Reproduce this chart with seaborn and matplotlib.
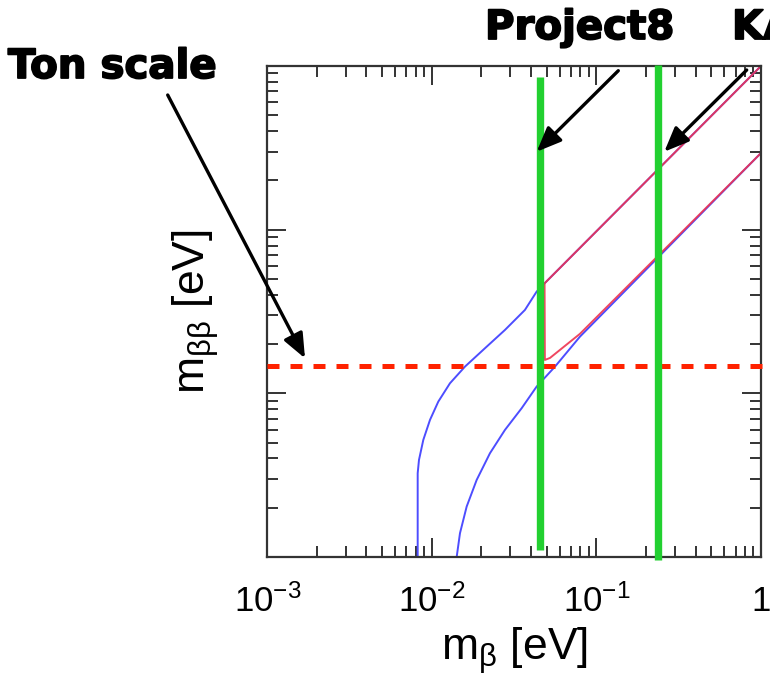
import matplotlib
matplotlib.use('Agg')
import matplotlib.pyplot as plt
import matplotlib.patheffects as pe
import seaborn as sns
import pandas as pd

# band edges: m_beta [eV] vs m_bb [eV]
no_upper_mb = [0.00820, 0.00820, 0.00835, 0.00887, 0.00974, 0.01094, 0.01288,
               0.01589, 0.02102, 0.0278, 0.03677, 0.0433, 0.0484, 1.0]
no_upper_mbb = [0.001, 0.00325, 0.003917, 0.005192, 0.00688, 0.008899, 0.01152,
                0.01456, 0.01886, 0.02439, 0.03232, 0.0418, 0.0470, 1.0]
no_lower_mb = [0.01415, 0.01482, 0.01627, 0.01872, 0.02254, 0.0278, 0.03512,
               0.0433, 0.0560, 0.0794, 1.0]
no_lower_mbb = [0.001, 0.001398, 0.002032, 0.002958, 0.004305, 0.005975,
                0.00811, 0.01099, 0.01456, 0.0222, 0.294]
io_mb = [1.0, 0.0484, 0.0486, 0.0522, 0.0794, 1.0]
io_mbb = [1.0, 0.047, 0.016, 0.01645, 0.0231, 0.294]

# sensitivities
ton_scale_mbb = 0.0147
project8_mb = 0.0452
project8_span = [0.0011, 0.857]
katrin_mb = 0.2374
katrin_span = [0.00096, 1.02]

x_ticks = [1e-3, 1e-2, 1e-1, 1.0]
x_tick_labels = ['$10^{-3}$', '$10^{-2}$', '$10^{-1}$', '1']

W, H = 770, 678


def fig_xy(px, py):
    # image pixel (from top-left) -> figure fraction
    return px / W, 1 - py / H


sns.set_style('ticks')
plt.rcParams['font.family'] = ['Liberation Sans', 'DejaVu Sans']
plt.rcParams['mathtext.fontset'] = 'custom'
plt.rcParams['mathtext.rm'] = 'Liberation Sans'
plt.rcParams['mathtext.it'] = 'Liberation Sans:italic'
plt.rcParams['mathtext.bf'] = 'Liberation Sans:bold'
plt.rcParams['text.color'] = 'black'
plt.rcParams['axes.labelcolor'] = 'black'
plt.rcParams['xtick.labelcolor'] = 'black'

fig = plt.figure(figsize=(W / 100, H / 100), dpi=100)
ax = fig.add_axes([267.3 / W, 1 - 557 / H, (761 - 267.3) / W, (557 - 66) / H])
ax.set_xscale('log')
ax.set_yscale('log')

blue = '#4d4dff'
red = '#ee3350'

df_up = pd.DataFrame({'mb': no_upper_mb, 'mbb': no_upper_mbb})
df_lo = pd.DataFrame({'mb': no_lower_mb, 'mbb': no_lower_mbb})
df_io = pd.DataFrame({'mb': io_mb, 'mbb': io_mbb})
sns.lineplot(data=df_up, x='mb', y='mbb', sort=False, estimator=None, ax=ax,
             color=blue, lw=1.4)
sns.lineplot(data=df_lo, x='mb', y='mbb', sort=False, estimator=None, ax=ax,
             color=blue, lw=1.4)
sns.lineplot(data=df_io, x='mb', y='mbb', sort=False, estimator=None, ax=ax,
             color=red, lw=1.4, alpha=0.9)

# ton scale line
ax.plot([1e-3, 1.15], [ton_scale_mbb, ton_scale_mbb], color='#ff2200', lw=3.6,
        dashes=(2.4, 2.2), clip_on=False, zorder=5)

# experiments
green = '#22d030'
ax.plot([project8_mb, project8_mb], project8_span, color=green, lw=5.3,
        solid_capstyle='butt', clip_on=False, zorder=6)
ax.plot([katrin_mb, katrin_mb], katrin_span, color=green, lw=5.3,
        solid_capstyle='butt', clip_on=False, zorder=6)

ax.set_xlim(1e-3, 1)
ax.set_ylim(1e-3, 1)
ax.set_xticks(x_ticks)
ax.set_xticklabels(x_tick_labels)
ax.tick_params(which='both', direction='in', top=True, right=True,
               color='#333333', width=1.4)
ax.tick_params(which='major', length=14)
ax.tick_params(which='minor', length=8)
ax.tick_params(axis='x', which='major', labelsize=25, pad=20)
ax.tick_params(axis='y', labelleft=False)
for s in ax.spines.values():
    s.set_linewidth(1.6)
    s.set_color('#333333')

ax.set_xlabel(r'm$_{\mathregular{β}}$ [eV]', fontsize=32, labelpad=4)
ax.set_ylabel(r'm$_{\mathregular{ββ}}$ [eV]', fontsize=32, labelpad=30)

# annotations
heavy = [pe.withStroke(linewidth=1.3, foreground='black')]
bold = dict(fontsize=29, fontweight='bold', family='DejaVu Sans',
            va='baseline', ha='left', color='black', path_effects=heavy)
fig.text(*fig_xy(8, 78), 'Ton scale', **bold)
fig.text(*fig_xy(485, 39), 'Project8', **bold)
fig.text(*fig_xy(732, 39), 'KATRIN', **bold)

arrows = [((167.7, 95), (305, 358.3)),
          ((618.3, 70.7), (536.7, 151.7)),
          ((746.7, 70), (664.3, 151.7))]
for tail, tip in arrows:
    ax.annotate('', xy=fig_xy(*tip), xytext=fig_xy(*tail),
                xycoords='figure fraction', textcoords='figure fraction',
                arrowprops=dict(arrowstyle='-|>,head_length=0.6,head_width=0.25',
                                mutation_scale=25, lw=2.4, color='black',
                                shrinkA=0, shrinkB=0),
                annotation_clip=False, zorder=10)

fig.savefig('out.png', dpi=100)
